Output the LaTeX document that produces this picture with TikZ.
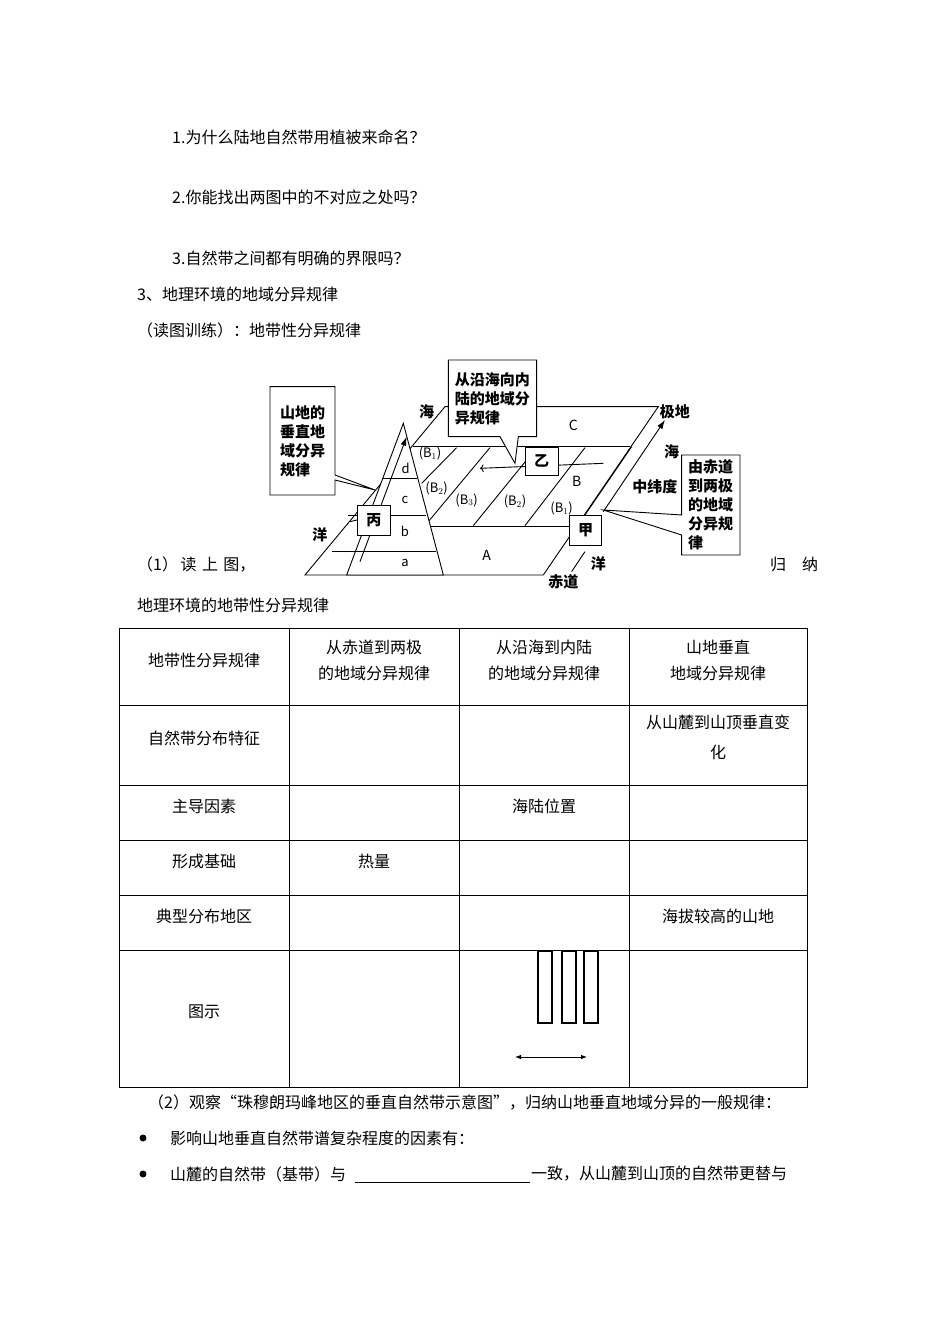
\documentclass[tikz,border=0pt]{standalone}
\usepackage{fontspec}
\setmainfont{Noto Sans CJK SC}
\newfontfamily\cjk{Noto Sans CJK SC}
\usetikzlibrary{arrows.meta}
\begin{document}
\begin{tikzpicture}[x=1pt,y=-1pt,
  txt/.style={anchor=west,inner sep=0pt,font=\fontsize{16}{18}\selectfont},
  ctxt/.style={inner sep=0pt,font=\fontsize{16}{18}\selectfont,align=center},
  dtxt/.style={inner sep=0pt,font=\fontsize{15}{19}\selectfont\bfseries,align=left},
  ln/.style={line width=0.9pt},
  box/.style={draw,line width=0.9pt,fill=white,inner sep=0pt,font=\fontsize{15}{15}\selectfont\bfseries}]
\useasboundingbox[fill=white] (0,0) rectangle (950,1344);
\node[txt] (q1) at (172,137) {1.为什么陆地自然带用植被来命名？};
\node[txt] (q2) at (172,197) {2.你能找出两图中的不对应之处吗？};
\node[txt] (q3) at (172,258) {3.自然带之间都有明确的界限吗？};
\node[txt] (h1) at (137,294) {3、地理环境的地域分异规律};
\node[txt] (h2) at (137,330) {（读图训练）：地带性分异规律};
\node[txt] (r1) at (137,564) {（1）\,读\,\,上\,\,图，};
\node[txt] (r2) at (770,564) {归\quad 纳};
\node[txt] (r3) at (137,605) {地理环境的地带性分异规律};
% diagram
\begin{scope}[shift={(260,355)},x=0.3333pt,y=-0.3333pt]
 \draw[ln] (135,660) -- (850,660) -- (1195,155) -- (555,155) -- cycle;
 \draw[ln] (460,275) -- (1110,275);
 \draw[ln] (510,515) -- (930,515);
 \draw[ln] (975,480) -- (1115,275);
 \draw[ln] (935,650) -- (975,590);
 \draw[ln,-{Latex[length=9pt,width=6pt]}] (1030,470) -- (1215,195);
 \draw[ln] (485,385) -- (590,278);
 \draw[ln] (505,500) -- (690,278);
 \draw[ln] (640,512) -- (830,278);
 \draw[ln] (795,512) -- (975,278);
 \draw[ln,fill=white] (260,660) -- (430,205) -- (550,660) -- cycle;
 \draw[ln] (215,590) -- (527,590);
 \draw[ln] (265,480) -- (498,480);
 \draw[ln] (370,370) -- (470,370);
 \draw[ln,-{Latex[length=9pt,width=6pt]}] (300,620) -- (440,245);
 \draw[ln,->] (1030,325) -- (660,340);
 \node[box,minimum width=33pt,minimum height=30pt] (bing) at (342,495) {丙};
 \node[box,minimum width=33pt,minimum height=28pt] (yi) at (845,318) {乙};
 \node[box,minimum width=32pt,minimum height=30pt] (jia) at (977,525) {甲};
 \draw[ln] (bing.west) -- (270,500);
 \draw[ln,fill=white] (30,95) -- (225,95) -- (225,360) -- (345,405) -- (225,375) -- (225,420) -- (30,420) -- cycle;
 \node[dtxt] (lb) at (128,258) {山地的\\垂直地\\域分异\\规律};
 \draw[ln,fill=white] (565,15) -- (830,15) -- (830,245) -- (775,245) -- (765,325) -- (720,245) -- (565,245) -- cycle;
 \node[dtxt] (tb) at (697,130) {从沿海向内\\陆的地域分\\异规律};
 \draw[ln,fill=white] (1265,300) -- (1440,300) -- (1440,600) -- (1265,600) -- (1265,540) -- (1030,465) -- (1265,480) -- cycle;
 \node[dtxt] (rb) at (1352,450) {由赤道\\到两极\\的地域\\分异规\\律};
 \node[dtxt] (l1) at (500,170) {海};
 \node[dtxt] (l2) at (180,540) {洋};
 \node[dtxt] (l3) at (1245,170) {极地};
 \node[dtxt] (l4) at (1235,290) {海};
 \node[dtxt] (l5) at (1185,395) {中纬度};
 \node[dtxt] (l6) at (1015,625) {洋};
 \node[dtxt] (l7) at (910,680) {赤道};
 \node[dtxt,font=\fontsize{14}{14}\selectfont] (lC) at (940,210) {C};
 \node[dtxt,font=\fontsize{14}{14}\selectfont] (lB) at (950,380) {B};
 \node[dtxt,font=\fontsize{14}{14}\selectfont] (lA) at (680,600) {A};
 \node[dtxt,font=\fontsize{13}{13}\selectfont] (la) at (435,625) {a};
 \node[dtxt,font=\fontsize{13}{13}\selectfont] (lbb) at (435,530) {b};
 \node[dtxt,font=\fontsize{13}{13}\selectfont] (lc) at (435,435) {c};
 \node[dtxt,font=\fontsize{13}{13}\selectfont] (ld) at (437,340) {d};
 \node[dtxt,font=\fontsize{13}{13}\selectfont] at (510,295) {(B$_1$)};
 \node[dtxt,font=\fontsize{13}{13}\selectfont] at (530,400) {(B$_2$)};
 \node[dtxt,font=\fontsize{13}{13}\selectfont] at (620,435) {(B$_3$)};
 \node[dtxt,font=\fontsize{13}{13}\selectfont] at (765,440) {(B$_2$)};
 \node[dtxt,font=\fontsize{13}{13}\selectfont] at (905,460) {(B$_1$)};
\end{scope}
% table
\draw[line width=0.6pt] (119,628) rectangle (807,1087);
\foreach \x in {289,459,629} \draw[line width=0.6pt] (\x,628) -- (\x,1087);
\foreach \y in {705,785,840,895,950} \draw[line width=0.6pt] (119,\y) -- (807,\y);
\node[ctxt] (t11) at (204,660) {地带性分异规律};
\node[ctxt] (t12) at (374,660) {从赤道到两极\\[8pt]的地域分异规律};
\node[ctxt] (t13) at (544,660) {从沿海到内陆\\[8pt]的地域分异规律};
\node[ctxt] (t14) at (718,660) {山地垂直\\[8pt]地域分异规律};
\node[ctxt] (t21) at (204,738) {自然带分布特征};
\node[ctxt] (t24) at (718,737) {从山麓到山顶垂直变\\[12pt]化};
\node[ctxt] (t31) at (204,806) {主导因素};
\node[ctxt] (t33) at (544,806) {海陆位置};
\node[ctxt] (t41) at (204,861) {形成基础};
\node[ctxt] (t42) at (374,861) {热量};
\node[ctxt] (t51) at (204,916) {典型分布地区};
\node[ctxt] (t54) at (718,916) {海拔较高的山地};
\node[ctxt] (t61) at (204,1012) {图示};
\foreach \x in {538,562,584} \draw[line width=1.2pt] (\x,951) rectangle (\x+14,1023);
\coordinate (al) at (515,1057); \coordinate (ar) at (587,1057);
\draw[line width=0.9pt,{Latex[length=6pt]}-{Latex[length=6pt]}] (al) -- (ar);
\node[txt] (p2) at (148,1102) {（2）观察“珠穆朗玛峰地区的垂直自然带示意图”，归纳山地垂直地域分异的一般规律：};
\fill (143,1138) circle (3.5pt);
\fill (143,1174) circle (3.5pt);
\node[txt] (b1) at (170,1138) {影响山地垂直自然带谱复杂程度的因素有：};
\node[txt] (b2a) at (170,1174) {山麓的自然带（基带）与};
\draw[line width=0.6pt] (355,1182) -- (530,1182);
\node[txt] (b2b) at (531,1174) {一致，从山麓到山顶的自然带更替与};
\end{tikzpicture}
\end{document}
